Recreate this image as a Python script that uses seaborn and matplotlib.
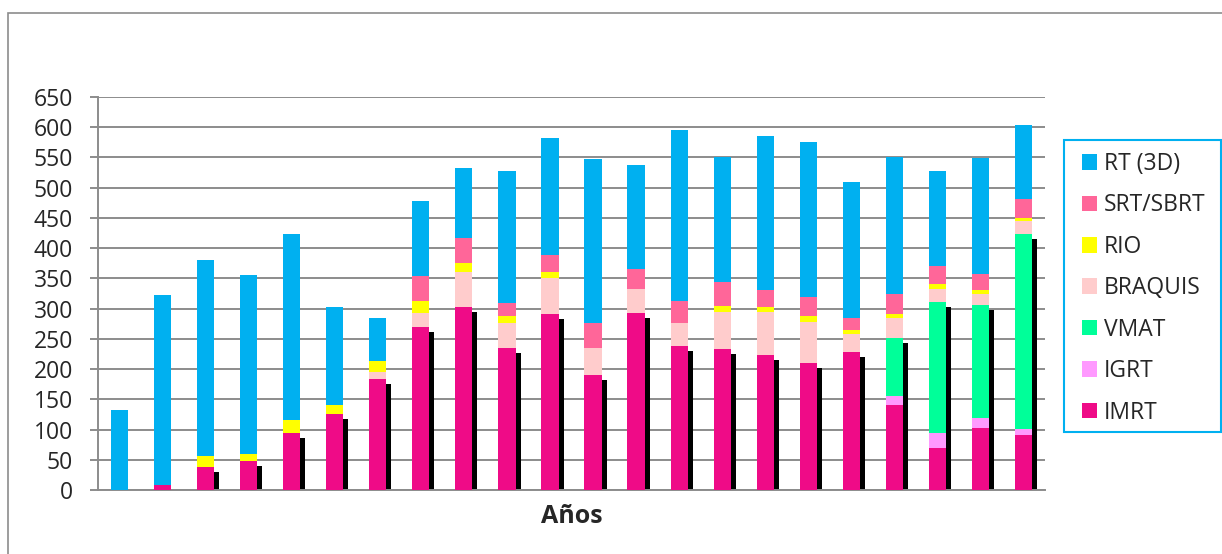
import numpy as np
import pandas as pd
import matplotlib
matplotlib.use('Agg')
import matplotlib.pyplot as plt
import matplotlib.transforms as mtransforms
from matplotlib.patches import Patch, Rectangle
import seaborn as sns

# datos (22 anios, sin etiquetas en el eje x)
anios = [str(i) for i in range(1, 23)]
imrt = [0, 8, 38, 48, 95, 126, 183, 269, 302, 235, 291, 191, 293, 238, 233, 224, 210, 228, 140, 70, 102, 91]
igrt = [0, 0, 0, 0, 0, 0, 0, 0, 0, 0, 0, 0, 0, 0, 0, 0, 0, 0, 15, 24, 17, 10]
vmat = [0, 0, 0, 0, 0, 0, 0, 0, 0, 0, 0, 0, 0, 0, 0, 0, 0, 0, 96, 217, 187, 323]
braquis = [0, 0, 0, 0, 0, 0, 12, 24, 59, 41, 60, 44, 40, 38, 62, 71, 68, 30, 33, 21, 19, 21]
rio = [0, 0, 18, 12, 21, 14, 18, 19, 15, 11, 9, 0, 0, 0, 9, 7, 10, 7, 7, 8, 6, 5]
srt = [0, 0, 0, 0, 0, 0, 0, 42, 40, 22, 29, 41, 33, 36, 40, 29, 31, 20, 34, 31, 26, 32]
rt3d = [133, 314, 324, 295, 308, 162, 71, 124, 116, 218, 194, 271, 171, 283, 206, 255, 256, 225, 225, 156, 192, 122]

series = ['IMRT', 'IGRT', 'VMAT', 'BRAQUIS', 'RIO', 'SRT/SBRT', 'RT (3D)']
valores = [imrt, igrt, vmat, braquis, rio, srt, rt3d]
colores = ['#EF0B87', '#FF99FF', '#00FF99', '#FFCCCC', '#FFFF00', '#FF6699', '#00B0F0']

sns.set_style('white')
plt.rcParams['font.family'] = ['Open Sans', 'DejaVu Sans']

fig = plt.figure(figsize=(12.22, 5.54), dpi=100)
ax = fig.add_axes([98 / 1222, 64 / 554, 947 / 1222, 393 / 554])

df = pd.DataFrame(dict(zip(series, valores)), index=anios)
acum = df.cumsum(axis=1)

# sombra negra (IMRT + IGRT + VMAT), desplazada a la derecha y abajo
desp = mtransforms.ScaledTranslation(5 / 100, -5 / 100, fig.dpi_scale_trans)
n0 = len(ax.patches)
sombra = pd.DataFrame({'anio': anios, 'valor': acum['VMAT'].values})
sns.barplot(data=sombra, x='anio', y='valor', color='black', width=0.4,
            errorbar=None, linewidth=0, saturation=1, ax=ax, zorder=2)
for p in ax.patches[n0:]:
    p.set_transform(ax.transData + desp)

# barras apiladas: se dibuja de la suma total hacia abajo
for nombre, col in reversed(list(zip(series, colores))):
    capa = pd.DataFrame({'anio': anios, 'valor': acum[nombre].values})
    sns.barplot(data=capa, x='anio', y='valor', color=col, width=0.4,
                errorbar=None, linewidth=0, saturation=1, ax=ax, zorder=3)

ax.set_xlim(-0.5, 21.5)
ax.set_ylim(0, 650)
ax.set_yticks(range(0, 651, 50))
ax.set_xticks([])
ax.grid(axis='y', color='#8C8C8C', linewidth=1.4)
ax.set_axisbelow(True)
for s in ['top', 'right']:
    ax.spines[s].set_visible(False)
for s in ['left', 'bottom']:
    ax.spines[s].set_color('#8C8C8C')
    ax.spines[s].set_linewidth(1.4)
ax.tick_params(axis='y', direction='out', length=6, width=1.4, color='#8C8C8C',
               labelsize=16.5, pad=12, left=True)
ax.set_ylabel('')
ax.set_xlabel('Años', fontsize=18, fontweight='bold', labelpad=10)

# leyenda sin marco; el marco se dibuja aparte
handles = [Patch(facecolor=c, edgecolor='none') for c in reversed(colores)]
leg = fig.legend(handles, list(reversed(series)), loc='upper left',
                 bbox_to_anchor=(1082 / 1222, 1 - 152 / 554), frameon=False,
                 fontsize=16.5, handlelength=0.66, handleheight=0.66,
                 handletextpad=0.3, labelspacing=0.76, borderpad=0,
                 borderaxespad=0)
fig.add_artist(Rectangle((1064 / 1222, 1 - 432 / 554), 157 / 1222, 292 / 554,
                         transform=fig.transFigure, fill=False,
                         edgecolor='#00B0F0', linewidth=1.5))

# borde exterior del area del grafico
fig.add_artist(Rectangle((8 / 1222, -0.1), 1.2, 1 - 13 / 554 + 0.1,
                         transform=fig.transFigure, fill=False,
                         edgecolor='#8C8C8C', linewidth=1.2))

fig.savefig('out.png', dpi=100)
